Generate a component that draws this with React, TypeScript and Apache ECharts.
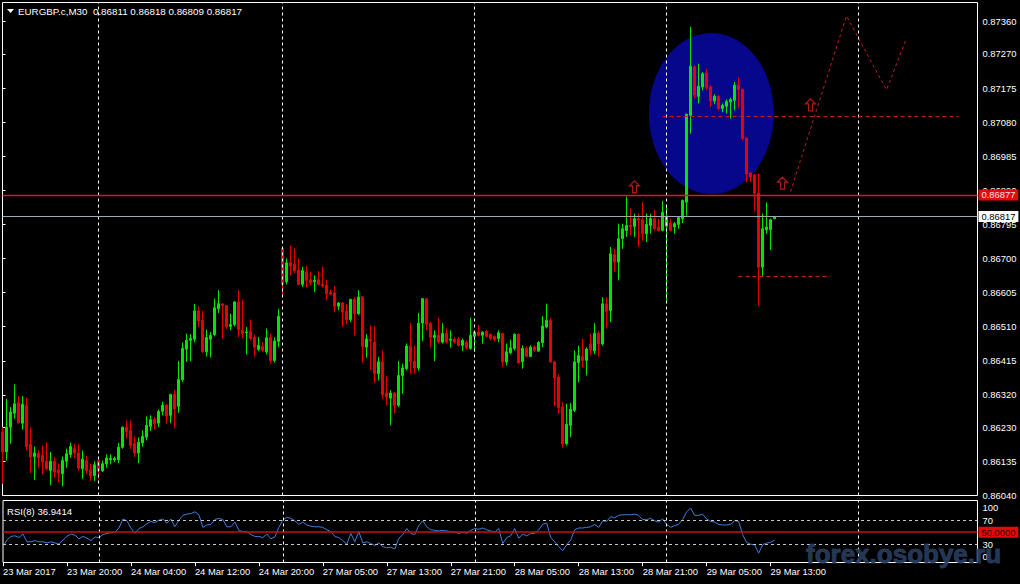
import React, { useEffect, useRef } from "react";
import * as echarts from "echarts";

const FONT = "'Liberation Sans', Arial, sans-serif";

// ---- tick labels ----
const timeLabels = [
  "23 Mar 2017", "23 Mar 20:00", "24 Mar 04:00", "24 Mar 12:00", "24 Mar 20:00",
  "27 Mar 05:00", "27 Mar 13:00", "27 Mar 21:00", "28 Mar 05:00", "28 Mar 13:00",
  "28 Mar 21:00", "29 Mar 05:00", "29 Mar 13:00",
];
const labelIdx = timeLabels.map((_, k) => k * 16);
const priceTicks = [
  0.8604, 0.86135, 0.8623, 0.8632, 0.86415, 0.8651, 0.86605, 0.867, 0.86795,
  0.8689, 0.86985, 0.8708, 0.87175, 0.8727, 0.8736,
];
const rsiTicks = [0, 30, 70, 100];
const daySeparators = [24, 70, 118, 166, 214];

// ---- M30 candles (bar index 0 = 23 Mar 12:00) ----
const open = [
  0.86216,0.86161,0.86230,0.86269,0.86298,0.86241,0.86291,0.86182,0.86148,0.86156,
  0.86151,0.86135,0.86109,0.86135,0.86111,0.86100,0.86135,0.86154,0.86170,0.86158,
  0.86114,0.86137,0.86111,0.86095,0.86137,0.86108,0.86128,0.86139,0.86139,0.86139,
  0.86174,0.86230,0.86221,0.86184,0.86158,0.86186,0.86202,0.86232,0.86251,0.86241,
  0.86274,0.86291,0.86263,0.86321,0.86288,0.86362,0.86447,0.86472,0.86475,0.86554,
  0.86528,0.86440,0.86475,0.86488,0.86560,0.86573,0.86569,0.86511,0.86516,0.86579,
  0.86500,0.86493,0.86497,0.86480,0.86447,0.86455,0.86440,0.86480,0.86416,0.86469,
  0.86728,0.86635,0.86689,0.86684,0.86667,0.86628,0.86663,0.86641,0.86635,0.86641,
  0.86628,0.86626,0.86605,0.86604,0.86567,0.86576,0.86553,0.86530,0.86586,0.86546,
  0.86593,0.86453,0.86474,0.86467,0.86379,0.86412,0.86325,0.86311,0.86325,0.86291,
  0.86374,0.86393,0.86456,0.86414,0.86395,0.86520,0.86588,0.86519,0.86480,0.86486,
  0.86467,0.86491,0.86472,0.86475,0.86475,0.86458,0.86467,0.86449,0.86483,0.86495,
  0.86486,0.86497,0.86489,0.86483,0.86477,0.86491,0.86412,0.86437,0.86449,0.86489,
  0.86412,0.86449,0.86427,0.86453,0.86442,0.86465,0.86509,0.86528,0.86412,0.86370,
  0.86286,0.86184,0.86235,0.86277,0.86410,0.86427,0.86416,0.86462,0.86443,0.86492,
  0.86462,0.86574,0.86555,0.86711,0.86690,0.86755,0.86778,0.86792,0.86789,0.86811,
  0.86808,0.86769,0.86792,0.86811,0.86788,0.86778,0.86790,0.86799,0.86788,0.86795,
  0.86811,0.86857,0.87099,0.87234,0.87152,0.87178,0.87217,0.87178,0.87139,0.87152,
  0.87118,0.87124,0.87136,0.87141,0.87183,0.87171,0.87036,0.86938,0.86932,0.86882,
  0.86676,0.86780,0.86780,0.86811,
];
const close = [
  0.86161,0.86230,0.86272,0.86295,0.86242,0.86294,0.86176,0.86147,0.86158,0.86145,
  0.86133,0.86114,0.86135,0.86105,0.86102,0.86137,0.86156,0.86176,0.86158,0.86116,
  0.86141,0.86109,0.86095,0.86125,0.86108,0.86128,0.86144,0.86143,0.86143,0.86174,
  0.86230,0.86218,0.86179,0.86158,0.86188,0.86204,0.86235,0.86251,0.86240,0.86274,
  0.86291,0.86261,0.86321,0.86281,0.86363,0.86450,0.86472,0.86477,0.86554,0.86526,
  0.86440,0.86480,0.86486,0.86563,0.86574,0.86569,0.86509,0.86516,0.86579,0.86502,
  0.86491,0.86495,0.86477,0.86453,0.86458,0.86444,0.86479,0.86416,0.86470,0.86539,
  0.86628,0.86688,0.86679,0.86666,0.86628,0.86666,0.86639,0.86633,0.86639,0.86628,
  0.86624,0.86602,0.86601,0.86567,0.86576,0.86551,0.86530,0.86586,0.86546,0.86593,
  0.86455,0.86476,0.86470,0.86379,0.86412,0.86321,0.86314,0.86325,0.86291,0.86374,
  0.86395,0.86456,0.86412,0.86395,0.86520,0.86588,0.86517,0.86480,0.86486,0.86467,
  0.86491,0.86467,0.86475,0.86467,0.86458,0.86472,0.86452,0.86486,0.86495,0.86486,
  0.86495,0.86483,0.86477,0.86474,0.86493,0.86412,0.86440,0.86451,0.86489,0.86409,
  0.86449,0.86427,0.86453,0.86444,0.86466,0.86512,0.86528,0.86412,0.86367,0.86284,
  0.86184,0.86238,0.86280,0.86412,0.86430,0.86416,0.86448,0.86445,0.86492,0.86462,
  0.86574,0.86553,0.86713,0.86690,0.86755,0.86783,0.86792,0.86788,0.86811,0.86806,
  0.86769,0.86795,0.86811,0.86783,0.86778,0.86829,0.86815,0.86778,0.86797,0.86814,
  0.86862,0.87102,0.87236,0.87155,0.87180,0.87215,0.87176,0.87139,0.87152,0.87118,
  0.87127,0.87138,0.87143,0.87183,0.87171,0.87034,0.86936,0.86927,0.86882,0.86676,
  0.86783,0.86788,0.86808,0.86817,
];
const low = [
  0.86072,0.86137,0.86184,0.86254,0.86240,0.86223,0.86165,0.86102,0.86083,0.86117,
  0.86098,0.86109,0.86068,0.86089,0.86076,0.86065,0.86117,0.86145,0.86143,0.86108,
  0.86086,0.86100,0.86081,0.86080,0.86086,0.86105,0.86117,0.86126,0.86133,0.86130,
  0.86170,0.86198,0.86170,0.86147,0.86130,0.86176,0.86193,0.86219,0.86224,0.86230,
  0.86263,0.86240,0.86241,0.86228,0.86270,0.86356,0.86412,0.86414,0.86467,0.86509,
  0.86437,0.86427,0.86424,0.86483,0.86548,0.86477,0.86504,0.86500,0.86511,0.86481,
  0.86477,0.86433,0.86472,0.86427,0.86442,0.86440,0.86433,0.86407,0.86410,0.86453,
  0.86598,0.86628,0.86653,0.86660,0.86626,0.86621,0.86619,0.86626,0.86607,0.86626,
  0.86619,0.86584,0.86598,0.86551,0.86556,0.86509,0.86517,0.86523,0.86486,0.86542,
  0.86409,0.86423,0.86390,0.86353,0.86360,0.86309,0.86291,0.86235,0.86269,0.86286,
  0.86323,0.86388,0.86379,0.86379,0.86388,0.86470,0.86500,0.86452,0.86414,0.86463,
  0.86463,0.86463,0.86452,0.86463,0.86455,0.86442,0.86446,0.86446,0.86440,0.86483,
  0.86463,0.86480,0.86472,0.86470,0.86467,0.86398,0.86402,0.86433,0.86444,0.86407,
  0.86393,0.86426,0.86426,0.86440,0.86440,0.86453,0.86505,0.86409,0.86288,0.86267,
  0.86173,0.86179,0.86202,0.86272,0.86355,0.86397,0.86374,0.86430,0.86434,0.86427,
  0.86457,0.86504,0.86523,0.86662,0.86639,0.86727,0.86760,0.86764,0.86760,0.86732,
  0.86750,0.86746,0.86769,0.86778,0.86776,0.86776,0.86583,0.86776,0.86769,0.86783,
  0.86799,0.86820,0.87048,0.87146,0.87132,0.87169,0.87169,0.87122,0.87130,0.87113,
  0.87108,0.87104,0.87090,0.87113,0.87118,0.87029,0.86913,0.86913,0.86832,0.86569,
  0.86650,0.86769,0.86724,0.86809,
];
const high = [
  0.86230,0.86309,0.86286,0.86349,0.86317,0.86317,0.86312,0.86230,0.86176,0.86167,
  0.86179,0.86188,0.86161,0.86147,0.86128,0.86148,0.86170,0.86187,0.86184,0.86182,
  0.86165,0.86150,0.86128,0.86135,0.86139,0.86137,0.86154,0.86154,0.86148,0.86186,
  0.86232,0.86249,0.86249,0.86204,0.86201,0.86221,0.86260,0.86263,0.86258,0.86279,
  0.86301,0.86295,0.86323,0.86333,0.86414,0.86466,0.86491,0.86489,0.86573,0.86567,
  0.86554,0.86502,0.86495,0.86588,0.86612,0.86576,0.86571,0.86546,0.86581,0.86612,
  0.86586,0.86509,0.86530,0.86488,0.86481,0.86467,0.86505,0.86491,0.86480,0.86559,
  0.86732,0.86700,0.86737,0.86728,0.86700,0.86677,0.86679,0.86663,0.86653,0.86665,
  0.86677,0.86641,0.86613,0.86623,0.86579,0.86579,0.86573,0.86588,0.86593,0.86612,
  0.86595,0.86489,0.86514,0.86511,0.86426,0.86444,0.86372,0.86333,0.86328,0.86414,
  0.86407,0.86463,0.86520,0.86458,0.86548,0.86590,0.86590,0.86523,0.86500,0.86535,
  0.86520,0.86505,0.86500,0.86481,0.86481,0.86477,0.86472,0.86535,0.86498,0.86514,
  0.86497,0.86500,0.86491,0.86486,0.86500,0.86493,0.86463,0.86474,0.86491,0.86491,
  0.86458,0.86455,0.86458,0.86458,0.86470,0.86539,0.86574,0.86535,0.86415,0.86377,
  0.86300,0.86295,0.86297,0.86444,0.86457,0.86476,0.86453,0.86490,0.86520,0.86499,
  0.86592,0.86592,0.86732,0.86727,0.86797,0.86797,0.86873,0.86839,0.86825,0.86825,
  0.86857,0.86825,0.86825,0.86836,0.86811,0.86860,0.86845,0.86811,0.86802,0.86817,
  0.86864,0.87104,0.87346,0.87239,0.87243,0.87220,0.87229,0.87183,0.87158,0.87155,
  0.87132,0.87143,0.87148,0.87192,0.87204,0.87174,0.87039,0.86941,0.86936,0.86936,
  0.86825,0.86857,0.86811,0.86818,
];

// ---- RSI(8) ----
const rsi = [
  26,37,43,44,41,47,34,34,36,34, 34,32,34,32,30,37,43,47,45,39,
  43,40,36,42,41,46,48,49,50,57, 72,69,57,48,56,59,64,68,66,70,
  72,65,72,59,70,78,80,81,84,79, 58,62,63,71,73,71,59,59,67,53,
  51,51,46,43,43,41,47,39,42,58, 70,75,73,69,63,67,62,60,59,59,
  58,54,51,43,41,36,30,48,34,51, 32,34,31,28,32,26,24,25,22,40,
  46,56,48,46,61,69,59,54,53,52, 53,52,51,50,48,50,48,53,56,55,
  57,54,52,50,56,31,41,44,56,40, 47,44,48,48,54,63,65,41,34,26,
  19,29,37,54,57,57,58,59,63,58, 69,68,76,74,78,79,79,79,80,78,
  71,71,73,69,67,72,63,58,61,63, 71,84,90,78,78,80,72,68,67,63,
  62,62,63,69,68,46,33,30,29,15, 29,32,33,37,
];

// ---- chart objects (bar index, price) ----
const levelPrice = 0.86877;
const bidPrice = 0.86817;
const trendLines = [
  [165, 239, 0.87097],
  [184, 207, 0.8665],
];
const projection = [
  [197, 0.86886],
  [211, 0.87376],
  [221, 0.8717],
  [226, 0.87314],
];
const arrows = [
  [158, 0.869],
  [195, 0.8691],
  [202, 0.87128],
];
const ellipseCenter = [177.2, 0.87104];
const ellipseRadius = [15.6, 0.002244];

const PRICE_MIN = 0.860395;
const PRICE_MAX = 0.874135;
const X_MAX = 243.75;

const AX = 9.4;
const dash = [3, 3];

function buildOption() {
  const candleData = open.map((o, i) => [i, o, close[i], low[i], high[i]]);
  const rsiData = rsi.map((v, i) => [i, v]);
  const dayLines = daySeparators.map((x) => ({
    xAxis: x,
    lineStyle: { color: "#ffffff", type: dash, width: 1, opacity: 1 },
    label: { show: false },
  }));

  return {
    animation: false,
    backgroundColor: "#000000",
    textStyle: { fontFamily: FONT },
    grid: [
      { left: 2.5, top: 2.5, width: 975, height: 493, show: true, borderColor: "#ffffff", borderWidth: 1, backgroundColor: "transparent" },
      { left: 2.5, top: 500.5, width: 975, height: 62, show: true, borderColor: "#ffffff", borderWidth: 1, backgroundColor: "transparent" },
    ],
    xAxis: [
      { type: "value", gridIndex: 0, min: 0, max: X_MAX, show: false },
      {
        type: "value",
        gridIndex: 1,
        min: 0,
        max: X_MAX,
        axisLine: { show: false },
        splitLine: { show: false },
        axisTick: { show: true, customValues: labelIdx, length: 4, lineStyle: { color: "#ffffff" } },
        axisLabel: {
          customValues: labelIdx,
          formatter: (v: number) => timeLabels[Math.round(v / 16)] || "",
          color: "#ffffff",
          fontSize: AX,
          fontFamily: FONT,
          align: "left",
          margin: 4,
        },
      },
    ],
    yAxis: [
      {
        type: "value",
        gridIndex: 0,
        position: "right",
        min: PRICE_MIN,
        max: PRICE_MAX,
        splitLine: { show: false },
        axisLine: { show: false },
        axisTick: { show: true, customValues: priceTicks, length: 3, lineStyle: { color: "#ffffff" } },
        axisLabel: {
          customValues: priceTicks,
          formatter: (v: number) => v.toFixed(5),
          color: "#ffffff",
          fontSize: AX,
          fontFamily: FONT,
          margin: 5,
        },
      },
      {
        type: "value",
        gridIndex: 1,
        position: "right",
        min: -0.5,
        max: 102.8,
        splitLine: { show: false },
        axisLine: { show: false },
        axisTick: { show: true, customValues: [30, 70], length: 3, lineStyle: { color: "#ffffff" } },
        axisLabel: {
          customValues: rsiTicks,
          formatter: (v: number) => (v === 100 ? "{t|100}" : v === 0 ? "{b|0}" : String(v)),
          color: "#ffffff",
          fontSize: AX,
          fontFamily: FONT,
          margin: 5,
          rich: {
            t: { padding: [11, 0, 0, 0], color: "#ffffff", fontSize: AX, fontFamily: FONT },
            b: { padding: [0, 0, 11, 0], color: "#ffffff", fontSize: AX, fontFamily: FONT },
          },
        },
      },
    ],
    series: [
      {
        type: "custom",
        name: "zone",
        xAxisIndex: 0,
        yAxisIndex: 0,
        z: 1,
        silent: true,
        clip: false,
        data: [ellipseCenter],
        renderItem: (_p: any, api: any) => {
          const c = api.coord([api.value(0), api.value(1)]);
          const s = api.size([ellipseRadius[0], ellipseRadius[1]]);
          return {
            type: "ellipse",
            shape: { cx: c[0], cy: c[1], rx: s[0], ry: s[1] },
            style: { fill: "#07078c" },
          };
        },
      },
      {
        type: "candlestick",
        name: "EURGBP.c,M30",
        xAxisIndex: 0,
        yAxisIndex: 0,
        z: 3,
        silent: true,
        clip: false,
        barWidth: 2,
        data: candleData,
        itemStyle: {
          color: "#00e600",
          borderColor: "#00e600",
          color0: "#e60000",
          borderColor0: "#e60000",
          borderWidth: 1,
        },
        markLine: {
          silent: true,
          symbol: "none",
          animation: false,
          precision: 6,
          data: [
            ...dayLines,
            {
              yAxis: bidPrice,
              lineStyle: { color: "#a0a8b2", type: "solid", width: 1, opacity: 1 },
              label: {
                show: true,
                position: "end",
                formatter: bidPrice.toFixed(5),
                backgroundColor: "#ffffff",
                color: "#000000",
                padding: [1, 3, 1, 3],
                distance: 1,
                fontSize: AX,
                fontFamily: FONT,
              },
            },
            ...trendLines.map((t) => [
              { coord: [t[0], t[2]], lineStyle: { color: "#c41e1e", type: [4, 3], width: 1, opacity: 1 }, label: { show: false } },
              { coord: [t[1], t[2]] },
            ]),
          ],
        },
      },
      {
        type: "line",
        name: "level",
        xAxisIndex: 0,
        yAxisIndex: 0,
        z: 4,
        silent: true,
        symbol: "none",
        data: [],
        markLine: {
          silent: true,
          symbol: "none",
          animation: false,
          precision: 6,
          data: [
            {
              yAxis: levelPrice,
              lineStyle: { color: "#f01010", type: "solid", width: 1.3, opacity: 1 },
              label: {
                show: true,
                position: "end",
                formatter: levelPrice.toFixed(5),
                backgroundColor: "#e00c0c",
                color: "#ffe0e0",
                padding: [1, 3, 1, 3],
                distance: 1,
                fontSize: AX,
                fontFamily: FONT,
              },
            },
          ],
        },
      },
      {
        type: "line",
        name: "projection",
        xAxisIndex: 0,
        yAxisIndex: 0,
        z: 4,
        silent: true,
        clip: false,
        symbol: "none",
        data: projection,
        lineStyle: { color: "#c41e1e", type: [3, 3], width: 1 },
      },
      {
        type: "scatter",
        name: "arrows",
        xAxisIndex: 0,
        yAxisIndex: 0,
        z: 5,
        silent: true,
        symbol: "path://M5,0 L10,5 L7,5 L7,12 L3,12 L3,5 L0,5 Z",
        symbolSize: [10, 12],
        data: arrows,
        itemStyle: { color: "rgba(0,0,0,0)", borderColor: "#d42020", borderWidth: 1.2 },
      },
      {
        type: "line",
        name: "RSI(8)",
        xAxisIndex: 1,
        yAxisIndex: 1,
        z: 3,
        silent: true,
        symbol: "none",
        data: rsiData,
        lineStyle: { color: "#3f7fd6", width: 1 },
        markLine: {
          silent: true,
          symbol: "none",
          animation: false,
          precision: 4,
          data: [
            ...dayLines,
            { yAxis: 70, lineStyle: { color: "#c8c8c8", type: dash, width: 1 }, label: { show: false } },
            { yAxis: 30, lineStyle: { color: "#c8c8c8", type: dash, width: 1 }, label: { show: false } },
            {
              yAxis: 50,
              lineStyle: { color: "#c81010", type: "solid", width: 1.5 },
              label: {
                show: true,
                position: "end",
                formatter: "50.0000",
                backgroundColor: "#e00c0c",
                color: "#3a0000",
                padding: [1, 3, 1, 3],
                distance: 1,
                fontSize: AX,
                fontFamily: FONT,
              },
            },
          ],
        },
      },
    ],
    graphic: [
      {
        type: "polygon",
        z: 50,
        shape: { points: [[7, 9], [14, 9], [10.5, 13]] },
        style: { fill: "#ffffff" },
      },
      {
        type: "text",
        z: 50,
        x: 18,
        y: 11,
        style: {
          text: "EURGBP.c,M30  0.86811 0.86818 0.86809 0.86817",
          fill: "#ffffff",
          font: `9.8px ${FONT}`,
          verticalAlign: "middle",
        },
      },
      {
        type: "text",
        z: 50,
        x: 7,
        y: 511,
        style: {
          text: "RSI(8) 36.9414",
          fill: "#ffffff",
          font: `9.6px ${FONT}`,
          verticalAlign: "middle",
        },
      },
      {
        type: "text",
        z: 60,
        x: 806,
        y: 554,
        style: {
          text: "forex.osobye.ru",
          fill: "rgba(40,62,98,0.88)",
          stroke: "rgba(62,90,130,0.6)",
          lineWidth: 1,
          font: `bold 26px ${FONT}`,
          verticalAlign: "middle",
        },
      },
    ],
  };
}

export default function App() {
  const ref = useRef<HTMLDivElement>(null);
  useEffect(() => {
    if (!ref.current) return;
    const chart = echarts.init(ref.current, null, { renderer: "svg" });
    chart.setOption(buildOption() as any);
    return () => {
      chart.dispose();
    };
  }, []);
  return (
    <div
      ref={ref}
      style={{ position: "fixed", left: 0, top: 0, width: 1020, height: 584, background: "#000000" }}
    />
  );
}
